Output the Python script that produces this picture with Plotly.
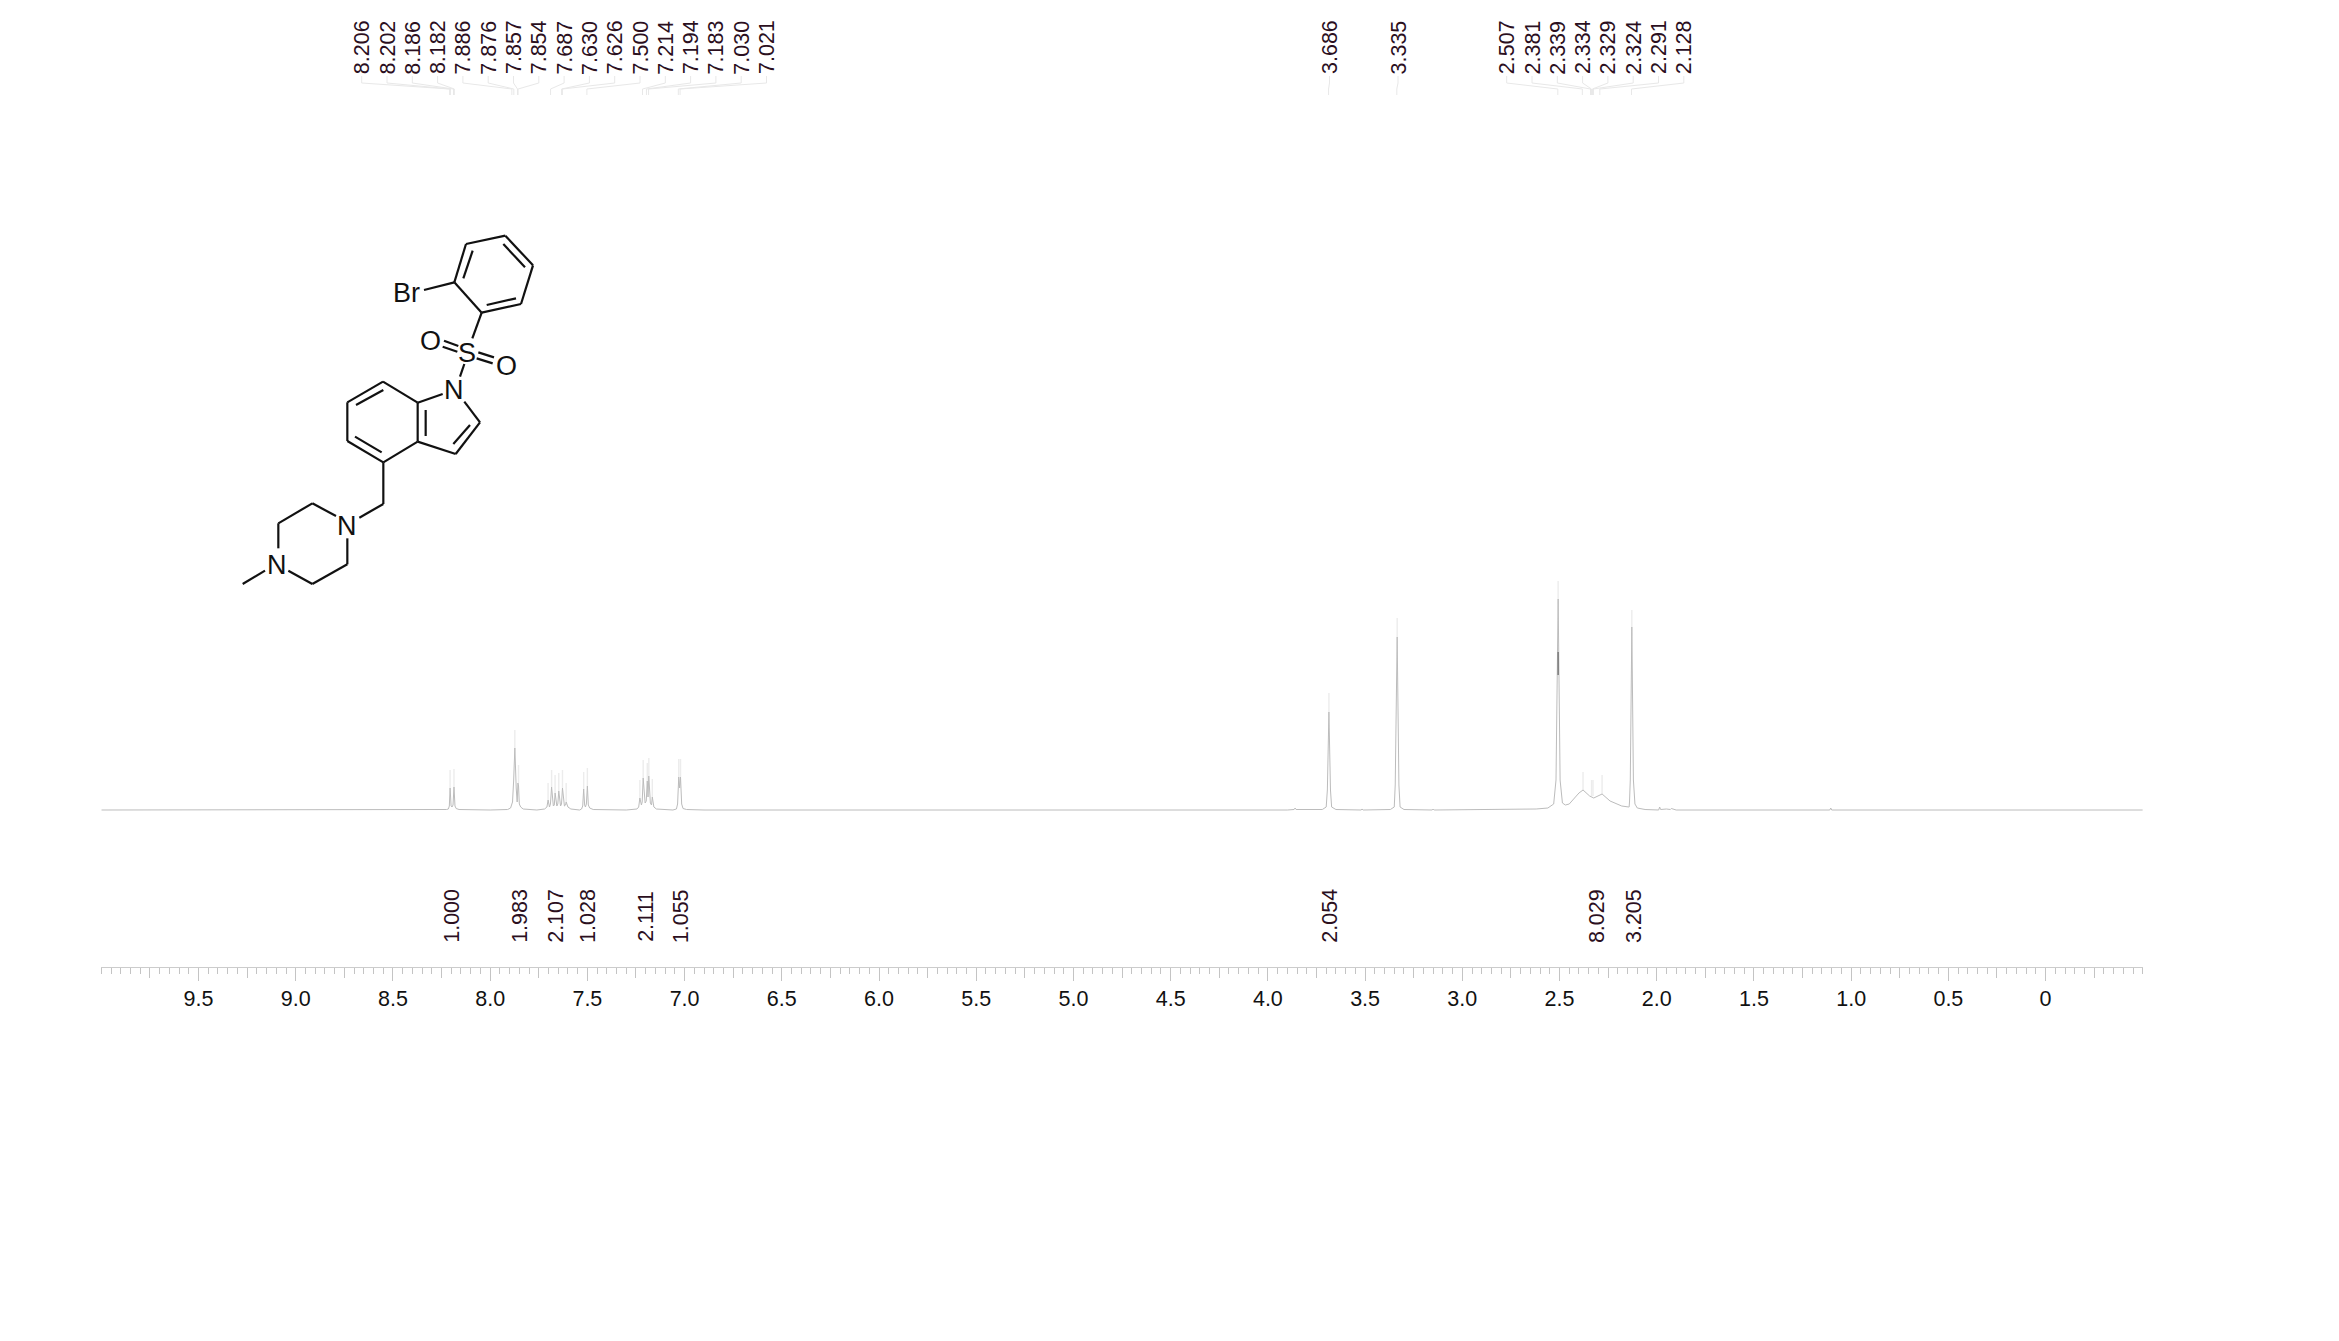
"""1H NMR spectrum with peak picks, integrals and the structure drawing."""
import plotly.graph_objects as go

W, H = 2339, 1341
AXIS_L, AXIS_R, AXIS_Y, BASE_Y = 101.3, 2142.8, 967, 810
FONT = "Liberation Sans"
TEXT_COLOR = "#2b0f1e"

# spectrum: chemical shift (ppm) / intensity
spec_ppm = [10.0, 8.30, 8.225, 8.215, 8.210, 8.206, 8.201, 8.196, 8.191, 8.186, 8.181, 8.175, 8.16, 8.00,
            7.91, 7.895, 7.885, 7.879, 7.873, 7.866, 7.861, 7.857, 7.854, 7.850, 7.843, 7.83, 7.76,
            7.72, 7.708, 7.702, 7.695, 7.690, 7.684, 7.675, 7.670, 7.666, 7.657, 7.652, 7.647, 7.638,
            7.633, 7.628, 7.618, 7.612, 7.609, 7.600, 7.585, 7.54,
            7.53, 7.524, 7.519, 7.514, 7.510, 7.505, 7.500, 7.495, 7.488, 7.47, 7.30,
            7.245, 7.236, 7.230, 7.222, 7.218, 7.213, 7.203, 7.197, 7.192, 7.188, 7.184, 7.176, 7.170, 7.166,
            7.158, 7.145, 7.06, 7.042, 7.036, 7.030, 7.0255, 7.021, 7.015, 7.008, 6.99, 6.90, 3.90,
            3.865, 3.86, 3.855, 3.72, 3.70, 3.694, 3.686, 3.678, 3.672, 3.65, 3.52, 3.516, 3.51, 3.37, 3.35,
            3.345, 3.335, 3.326, 3.32, 3.30, 3.155, 3.15, 3.145, 2.62, 2.56, 2.53, 2.518, 2.507, 2.497, 2.485,
            2.47, 2.45, 2.42, 2.40, 2.379, 2.345, 2.324, 2.281, 2.24, 2.18, 2.144, 2.142, 2.14, 2.136, 2.128, 2.120,
            2.112, 2.10, 2.06, 1.99, 1.985, 1.98, 1.95, 1.93, 1.925, 1.90, 1.11, 1.105, 1.10, -0.5]
spec_int = [0, 0, 0.5, 1, 4, 22, 4, 3, 5, 23, 4, 1.5, 0.5, 0,
            0.5, 2, 8, 30, 62, 22, 8, 27, 24, 6, 3, 1, 0,
            1, 3, 10, 3, 6, 23, 4, 5, 17, 4, 6, 19, 4, 6, 22, 4, 5, 8, 3, 1, 0,
            1, 4, 21, 5, 3, 6, 24, 5, 2, 0.5, 0,
            1, 3, 12, 5, 8, 32, 7, 9, 29, 13, 34, 7, 5, 13, 3, 1, 0, 1, 6, 33, 22, 33, 6, 1.5, 0.5, 0, 0,
            0.5, 2, 0.5, 0.5, 3, 20, 98, 20, 3, 0.5, 0, 1, 0, 0.5, 3,
            25, 173, 25, 3, 0.5, 0, 1, 0, 1, 2, 6, 30, 211, 30, 7,
            5, 6, 13, 17, 20, 14, 12, 16, 9, 4, 3, 3, 8, 30, 183, 30, 6, 2, 0.5, 0, 3, 0.5, 1, 0.5, 1.5, 0, 0, 2, 0, 0]

# faint upper ends of the sharp lines: ppm, where the visible peak stops, where the tip stops
tip_ppm = [8.206, 8.186, 7.873, 7.854, 7.702, 7.684, 7.666, 7.647, 7.628, 7.609, 7.519, 7.500, 7.230, 7.213,
           7.192, 7.184, 7.166, 7.030, 7.021, 3.686, 3.335, 2.507, 2.379, 2.335, 2.328, 2.281, 2.128]
tip_low = [22, 23, 62, 27, 10, 23, 17, 19, 22, 8, 21, 24, 12, 32, 29, 34, 13, 33, 33, 98, 173, 211, 20, 14, 14, 16, 183]
tip_high = [40, 41, 80, 45, 27, 40, 35, 37, 40, 27, 38, 42, 30, 50, 47, 52, 31, 51, 51, 117, 192, 229, 38, 30, 30, 35, 200]

# picked peak labels, in drawing order left to right
peaks_left = ["8.206", "8.202", "8.186", "8.182", "7.886", "7.876", "7.857", "7.854", "7.687",
              "7.630", "7.626", "7.500", "7.214", "7.194", "7.183", "7.030", "7.021"]
peaks_mid = ["3.686", "3.335"]
peaks_right = ["2.507", "2.381", "2.339", "2.334", "2.329", "2.324", "2.291", "2.128"]

integral_labels = ["1.000", "1.983", "2.107", "1.028", "2.111", "1.055", "2.054", "8.029", "3.205"]
integral_ppm = [8.195, 7.845, 7.66, 7.495, 7.197, 7.015, 3.68, 2.305, 2.115]

tick_vals = [9.5, 9.0, 8.5, 8.0, 7.5, 7.0, 6.5, 6.0, 5.5, 5.0, 4.5, 4.0, 3.5, 3.0, 2.5, 2.0, 1.5, 1.0, 0.5, 0]
tick_text = ["9.5", "9.0", "8.5", "8.0", "7.5", "7.0", "6.5", "6.0", "5.5", "5.0", "4.5", "4.0", "3.5", "3.0",
             "2.5", "2.0", "1.5", "1.0", "0.5", "0"]

# structure drawing, bond ends in crop units of 3 per pixel
bonds = [
    (703, 187, 738, 72), (738, 72, 856, 47), (856, 47, 939, 136), (939, 136, 903, 252), (903, 252, 785, 278),
    (785, 278, 703, 187), (730, 175, 758, 92), (850, 72, 915, 142), (888, 235, 800, 255), (703, 187, 612, 210),
    (785, 278, 757, 355), (672, 362, 715, 378), (668, 380, 712, 395), (775, 397, 822, 412), (770, 415, 818, 430),
    (733, 432, 720, 470), (593, 548, 668, 522), (733, 545, 780, 607), (780, 607, 707, 702), (750, 615, 700, 672),
    (707, 702, 593, 665), (593, 665, 593, 548), (617, 648, 617, 570), (593, 548, 489, 485), (489, 485, 382, 547),
    (490, 510, 408, 555), (382, 547, 382, 663), (382, 663, 490, 727), (405, 650, 485, 697), (490, 727, 593, 665),
    (490, 727, 490, 852), (490, 852, 418, 893), (348, 888, 277, 850), (277, 850, 175, 910), (175, 910, 175, 985),
    (205, 1052, 277, 1092), (277, 1092, 382, 1033), (382, 1033, 382, 955), (135, 1052, 68, 1092),
]
atoms = [("Br", 559, 220), ("O", 632, 363), ("S", 740, 400), ("O", 860, 437), ("N", 702, 510),
         ("N", 382, 918), ("N", 170, 1035)]


def to_px(ppm):
    return 2045.3 - ppm * 194.45


def connector(label_x, ppm):
    target = to_px(ppm)
    return [label_x, label_x, target, target, None], [76, 83, 89, 95, None]


fig = go.Figure()

# spectrum on the real ppm axis
tips_x, tips_y = [], []
for p, lo, hi in zip(tip_ppm, tip_low, tip_high):
    tips_x += [p, p, None]
    tips_y += [lo, hi, None]
fig.add_trace(go.Scatter(x=tips_x, y=tips_y, mode="lines", line=dict(color="#ececec", width=1.4),
                         xaxis="x", yaxis="y", hoverinfo="skip"))
fig.add_trace(go.Scatter(x=spec_ppm, y=spec_int, mode="lines", line=dict(color="#bcbcbc", width=1),
                         xaxis="x", yaxis="y"))
fig.add_trace(go.Scatter(x=[2.507, 2.507], y=[135, 158], mode="lines", line=dict(color="#808080", width=1.6),
                         xaxis="x", yaxis="y", hoverinfo="skip"))
# only here so the 0.25 ppm tick axis gets drawn
fig.add_trace(go.Scatter(x=[0], y=[0], mode="lines", xaxis="x3", yaxis="y", hoverinfo="skip"))

# connectors from the labels down to the peaks
conn_x, conn_y = [], []
for i, label in enumerate(peaks_left):
    cx, cy = connector(361.7 + i * 25.3, float(label))
    conn_x += cx
    conn_y += cy
for label, lx in zip(peaks_mid, [1329.5, 1398]):
    cx, cy = connector(lx, float(label))
    conn_x += cx
    conn_y += cy
for i, label in enumerate(peaks_right):
    cx, cy = connector(1506.7 + i * 25.3, float(label))
    conn_x += cx
    conn_y += cy
fig.add_trace(go.Scatter(x=conn_x, y=conn_y, mode="lines", line=dict(color="#e8e8e8", width=1),
                         xaxis="x2", yaxis="y2", hoverinfo="skip"))

# molecule
mol_x, mol_y = [], []
for x0, y0, x1, y1 in bonds:
    mol_x += [220 + x0 / 3, 220 + x1 / 3, None]
    mol_y += [220 + y0 / 3, 220 + y1 / 3, None]
fig.add_trace(go.Scatter(x=mol_x, y=mol_y, mode="lines", line=dict(color="#111111", width=2.2),
                         xaxis="x2", yaxis="y2", hoverinfo="skip"))

annotations = []


def vtext(text, x, y):
    annotations.append(dict(text=text, x=x, y=y, xref="x2", yref="y2", textangle=-90, showarrow=False,
                            xanchor="center", yanchor="middle",
                            font=dict(family=FONT, size=21.5, color=TEXT_COLOR)))


for i, label in enumerate(peaks_left):
    vtext(label, 361.7 + i * 25.3, 47.5)
for label, lx in zip(peaks_mid, [1329.5, 1398]):
    vtext(label, lx, 47.5)
for i, label in enumerate(peaks_right):
    vtext(label, 1506.7 + i * 25.3, 47.5)
for label, p in zip(integral_labels, integral_ppm):
    vtext(label, to_px(p), 916)
for sym, ax, ay in atoms:
    annotations.append(dict(text=sym, x=220 + ax / 3, y=220 + ay / 3, xref="x2", yref="y2", showarrow=False,
                            xanchor="center", yanchor="middle",
                            font=dict(family=FONT, size=27, color="#111111")))

fig.update_layout(
    width=W, height=H, autosize=False,
    margin=dict(l=0, r=0, t=0, b=0, pad=0),
    paper_bgcolor="white", plot_bgcolor="rgba(0,0,0,0)",
    showlegend=False,
    annotations=annotations,
    font=dict(family=FONT, color="#111111"),
    xaxis=dict(
        domain=[AXIS_L / W, AXIS_R / W], range=[10, -0.5], anchor="y",
        tickmode="array", tickvals=tick_vals, ticktext=tick_text,
        ticks="outside", ticklen=12.5, tickcolor="#c4c4c4", tickwidth=1,
        tickfont=dict(family=FONT, size=21.5, color="#111111"),
        showline=True, linecolor="#cccccc", linewidth=1, showgrid=False, zeroline=False,
        minor=dict(dtick=0.05, tick0=0, ticks="outside", ticklen=6, tickcolor="#c4c4c4", tickwidth=1, showgrid=False),
    ),
    xaxis3=dict(
        overlaying="x", range=[10, -0.5], anchor="y", tick0=0.25, dtick=0.5,
        ticks="outside", ticklen=10, tickcolor="#c4c4c4", tickwidth=1,
        showticklabels=False, showline=False, showgrid=False, zeroline=False,
    ),
    yaxis=dict(domain=[(H - AXIS_Y) / H, 1], range=[BASE_Y - AXIS_Y, BASE_Y], visible=False),
    # pixel-sized overlay for labels, connectors and the drawing
    xaxis2=dict(domain=[0, 1], range=[0, W], anchor="y2", visible=False),
    yaxis2=dict(domain=[0, 1], range=[H, 0], anchor="x2", visible=False),
)

fig.write_html("out.html", config=dict(displayModeBar=False), post_script="document.body.style.margin='0';")
